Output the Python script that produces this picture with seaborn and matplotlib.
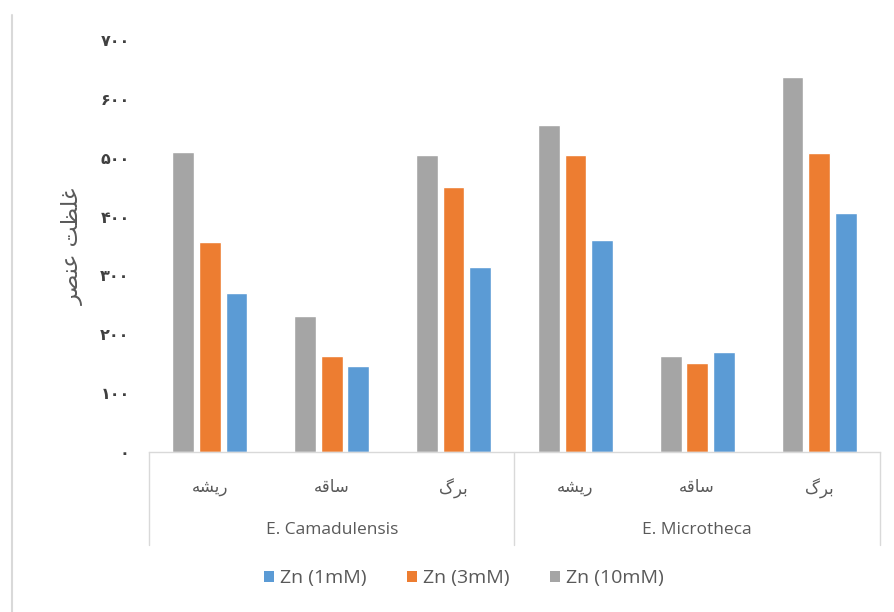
import matplotlib
matplotlib.use('Agg')
import matplotlib.pyplot as plt
import seaborn as sns
import pandas as pd
from matplotlib.lines import Line2D
from matplotlib.patches import Patch

# data
species = ['E. Camadulensis', 'E. Microtheca']
organs = ['ریشه', 'ساقه', 'برگ']
zn_1mM = [270, 146, 314, 360, 170, 406]
zn_3mM = [357, 163, 451, 505, 152, 508]
zn_10mM = [510, 231, 505, 556, 163, 637]
series_names = ['Zn (1mM)', 'Zn (3mM)', 'Zn (10mM)']
y_ticks = [0, 100, 200, 300, 400, 500, 600, 700]
y_label = 'غلظت عنصر'

colors = {'Zn (1mM)': '#5B9BD5', 'Zn (3mM)': '#ED7D31', 'Zn (10mM)': '#A5A5A5'}
TXT = '#595959'
LINE = '#D9D9D9'

# matplotlib has no arabic shaping -> pick presentation forms by hand
FORMS = {
    'غ': '\uFECD\uFECE\uFECF\uFED0', 'ل': '\uFEDD\uFEDE\uFEDF\uFEE0',
    'ظ': '\uFEC5\uFEC6\uFEC7\uFEC8', 'ت': '\uFE95\uFE96\uFE97\uFE98',
    'ع': '\uFEC9\uFECA\uFECB\uFECC', 'ن': '\uFEE5\uFEE6\uFEE7\uFEE8',
    'ص': '\uFEB9\uFEBA\uFEBB\uFEBC', 'ر': '\uFEAD\uFEAE\uFEAD\uFEAE',
    'ی': '\uFBFC\uFBFD\uFBFE\uFBFF', 'ش': '\uFEB5\uFEB6\uFEB7\uFEB8',
    'ه': '\uFEE9\uFEEA\uFEEB\uFEEC', 'س': '\uFEB1\uFEB2\uFEB3\uFEB4',
    'ا': '\uFE8D\uFE8E\uFE8D\uFE8E', 'ق': '\uFED5\uFED6\uFED7\uFED8',
    'ب': '\uFE8F\uFE90\uFE91\uFE92', 'گ': '\uFB92\uFB93\uFB94\uFB95',
}
RIGHT_ONLY = set('اردذزژو')


def shape(text):
    out = []
    for i, ch in enumerate(text):
        if ch not in FORMS:
            out.append(ch)
            continue
        prev = text[i - 1] if i > 0 else ' '
        nxt = text[i + 1] if i + 1 < len(text) else ' '
        j_prev = prev in FORMS and prev not in RIGHT_ONLY
        j_next = nxt in FORMS and ch not in RIGHT_ONLY
        idx = {(False, False): 0, (True, False): 1, (False, True): 2, (True, True): 3}[(j_prev, j_next)]
        out.append(FORMS[ch][idx])
    return ''.join(out)[::-1]


FA_DIGITS = str.maketrans('0123456789', '۰۱۲۳۴۵۶۷۸۹')

# long table for seaborn
keys = [f'{s}-{o}' for s in species for o in organs]
rows = []
for name, vals in zip(series_names, [zn_1mM, zn_3mM, zn_10mM]):
    for k, v in zip(keys, vals):
        rows.append({'cat': k, 'series': name, 'value': v})
df = pd.DataFrame(rows)

sns.set_style('white')
plt.rcParams['font.family'] = ['Open Sans', 'DejaVu Sans']

fig = plt.figure(figsize=(8.95, 6.12), dpi=100)
ax = fig.add_axes([149 / 895, 1 - 452 / 612, 731 / 895, 412 / 612])

sns.barplot(data=df, x='cat', y='value', hue='series', order=keys,
            hue_order=series_names[::-1], palette=colors, width=0.655,
            gap=0.18, saturation=1, errorbar=None, legend=False, ax=ax)

ax.set_xlim(-0.5, len(keys) - 0.5)
ax.set_ylim(y_ticks[0], y_ticks[-1])
ax.set_yticks(y_ticks)
ax.set_yticklabels([str(t).translate(FA_DIGITS) for t in y_ticks],
                   fontsize=11.5, color='#404040', family='DejaVu Sans', weight='bold')
ax.set_xticks(range(len(keys)))
ax.set_xticklabels([shape(o) for s in species for o in organs],
                   fontsize=12, color=TXT, family='DejaVu Sans')
ax.tick_params(axis='y', length=0, pad=14)
ax.tick_params(axis='x', length=0, pad=19)
ax.set_xlabel('')
ax.set_ylabel(shape(y_label), fontsize=16, color=TXT, family='DejaVu Sans', labelpad=12)

for side in ['top', 'right', 'left']:
    ax.spines[side].set_visible(False)
ax.spines['bottom'].set_color(LINE)
ax.spines['bottom'].set_linewidth(1)

# category box lines under the axis
tr = ax.get_xaxis_transform()
n = len(organs)
for b in range(len(species) + 1):
    xb = b * n - 0.5
    ax.add_line(Line2D([xb, xb], [0, -0.226], transform=tr, color=LINE, lw=1, clip_on=False))
for i, s in enumerate(species):
    ax.text(i * n + (n - 1) / 2, -0.19, s, transform=tr, ha='center', va='center',
            fontsize=12.5, color=TXT)

# outer chart border (left edge)
fig.add_artist(Line2D([12 / 895, 12 / 895], [0, 1 - 15 / 612], transform=fig.transFigure,
                      color=LINE, lw=1.5))

handles = [Patch(facecolor=colors[s], edgecolor='none') for s in series_names]
fig.legend(handles, series_names, loc='center', bbox_to_anchor=(464 / 895, 1 - 578 / 612),
           ncol=3, frameon=False, fontsize=14, handlelength=0.5, handleheight=0.5,
           handletextpad=0.3, columnspacing=2.1, labelcolor=TXT)

fig.savefig('out.png', dpi=100, facecolor='white')
